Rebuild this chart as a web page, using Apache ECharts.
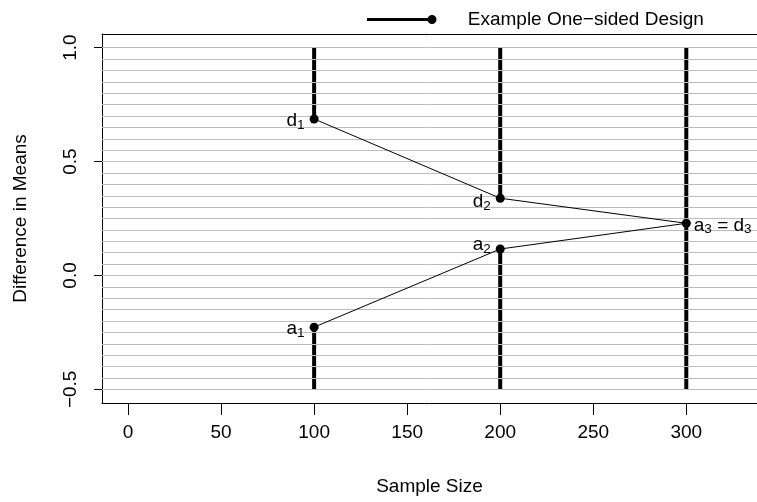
<!DOCTYPE html>
<html>
<head>
<meta charset="utf-8">
<script src="https://cdn.jsdelivr.net/npm/echarts@6/dist/echarts.min.js"></script>
<style>
html, body { margin: 0; padding: 0; background: #fff; }
#main { width: 757px; height: 502px; }
</style>
</head>
<body>
<div id="main"></div>
<script>
var FONT = '"Liberation Sans", Arial, Helvetica, sans-serif';
var FS = 19;

// stage sample sizes and boundaries
var stages = [100, 200, 300];
var upperBound = [0.687, 0.339, 0.229];   // d1, d2, d3
var lowerBound = [-0.227, 0.116, 0.229];  // a1, a2, a3
var boundTop = 1.0;
var boundBottom = -0.5;
var upperLabels = [['d', '1'], ['d', '2']];
var lowerLabels = [['a', '1'], ['a', '2']];
var xTicks = [0, 50, 100, 150, 200, 250, 300];
var yTicks = [-0.5, 0, 0.5, 1.0];
var legendName = 'Example One\u2212sided Design';

var chart = echarts.init(document.getElementById('main'));

var rich = {
    m: { fontSize: FS, fontFamily: FONT, color: '#000' },
    s: { fontSize: 13.5, fontFamily: FONT, color: '#000', padding: [8, 0, 0, 0] }
};

var series = [];

// thick vertical bars: continuation region above d and below a
stages.forEach(function (x, i) {
    series.push({
        type: 'line', xAxisIndex: 0, yAxisIndex: 0, z: 2, silent: true,
        symbol: 'none', lineStyle: { color: '#000', width: 4 },
        data: [[x, boundTop], [x, upperBound[i]]]
    });
    series.push({
        type: 'line', xAxisIndex: 0, yAxisIndex: 0, z: 2, silent: true,
        symbol: 'none', lineStyle: { color: '#000', width: 4 },
        data: [[x, lowerBound[i]], [x, boundBottom]]
    });
});

// connecting lines
series.push({
    name: legendName, type: 'line', xAxisIndex: 0, yAxisIndex: 0, z: 4,
    symbol: 'none', lineStyle: { color: '#000', width: 1 },
    data: stages.map(function (x, i) { return [x, upperBound[i]]; })
});
series.push({
    type: 'line', xAxisIndex: 0, yAxisIndex: 0, z: 4,
    symbol: 'none', lineStyle: { color: '#000', width: 1 },
    data: stages.map(function (x, i) { return [x, lowerBound[i]]; })
});

// points with labels
var pts = [];
upperLabels.forEach(function (l, i) {
    pts.push({
        value: [stages[i], upperBound[i]],
        label: { position: 'left', distance: 5, offset: [0, i === 1 ? 4 : 2],
            formatter: '{m|' + l[0] + '}{s|' + l[1] + '}' }
    });
});
lowerLabels.forEach(function (l, i) {
    pts.push({
        value: [stages[i], lowerBound[i]],
        label: { position: 'left', distance: 5, offset: [0, i === 1 ? -4 : 2],
            formatter: '{m|' + l[0] + '}{s|' + l[1] + '}' }
    });
});
pts.push({
    value: [stages[2], upperBound[2]],
    label: { position: 'right', distance: 3, offset: [0, 2],
        formatter: '{m|a}{s|3}{m| = d}{s|3}' }
});
series.push({
    type: 'scatter', xAxisIndex: 0, yAxisIndex: 0, z: 5,
    symbol: 'circle', symbolSize: 9, itemStyle: { color: '#000', opacity: 1 },
    label: { show: true, color: '#000', rich: rich },
    data: pts
});

var option = {
    animation: false,
    backgroundColor: '#fff',
    textStyle: { fontFamily: FONT },
    legend: {
        data: [legendName],
        left: 362, top: 5,
        itemWidth: 70, itemHeight: 9,
        icon: 'path://M0,3 L65,3 L65,6 L0,6 Z M60.5,4.5 a4.5,4.5 0 1,1 9,0 a4.5,4.5 0 1,1 -9,0 Z',
        itemStyle: { color: '#000' },
        textStyle: { fontSize: FS, fontFamily: FONT, color: '#000', padding: [0, 0, 0, 26] }
    },
    grid: [
        { left: 102, top: 34, right: 0, bottom: 99 },
        { left: 102, top: 47.7, right: 0, bottom: 112.6 }
    ],
    xAxis: [
        {
            gridIndex: 0, type: 'value', min: -14, max: 338, position: 'bottom',
            name: 'Sample Size', nameLocation: 'middle', nameGap: 74,
            nameTextStyle: { fontSize: FS, color: '#000', fontFamily: FONT },
            axisLine: { show: true, onZero: false, lineStyle: { color: '#000', width: 1 } },
            axisTick: { show: true, length: 12, customValues: xTicks, lineStyle: { color: '#000' } },
            axisLabel: { customValues: xTicks, margin: 20, fontSize: FS, color: '#000', fontFamily: FONT },
            splitLine: { show: false }
        },
        {
            gridIndex: 0, type: 'value', min: -14, max: 338, position: 'top',
            axisLine: { show: true, onZero: false, lineStyle: { color: '#000', width: 1 } },
            axisTick: { show: false }, axisLabel: { show: false }, splitLine: { show: false }
        },
        {
            gridIndex: 1, type: 'value', min: -14, max: 338, show: false
        }
    ],
    yAxis: [
        {
            gridIndex: 0, type: 'value', min: -0.56, max: 1.06,
            name: 'Difference in Means', nameLocation: 'middle', nameGap: 72,
            nameTextStyle: { fontSize: FS, color: '#000', fontFamily: FONT },
            axisLine: { show: true, onZero: false, lineStyle: { color: '#000', width: 1 } },
            axisTick: { show: true, length: 8, customValues: yTicks, lineStyle: { color: '#000' } },
            axisLabel: {
                customValues: yTicks, rotate: 90, margin: 22, fontSize: FS, color: '#000', fontFamily: FONT,
                formatter: function (v) { return v.toFixed(1).replace('-', '\u2212'); }
            },
            splitLine: { show: false }
        },
        {
            gridIndex: 1, type: 'value', min: boundBottom, max: boundTop, interval: 0.05, z: 3,
            axisLine: { show: false }, axisTick: { show: false }, axisLabel: { show: false },
            splitLine: { show: true, lineStyle: { color: '#bdbdbd', width: 1 } }
        }
    ],
    series: series
};
chart.setOption(option);
</script>
</body>
</html>
